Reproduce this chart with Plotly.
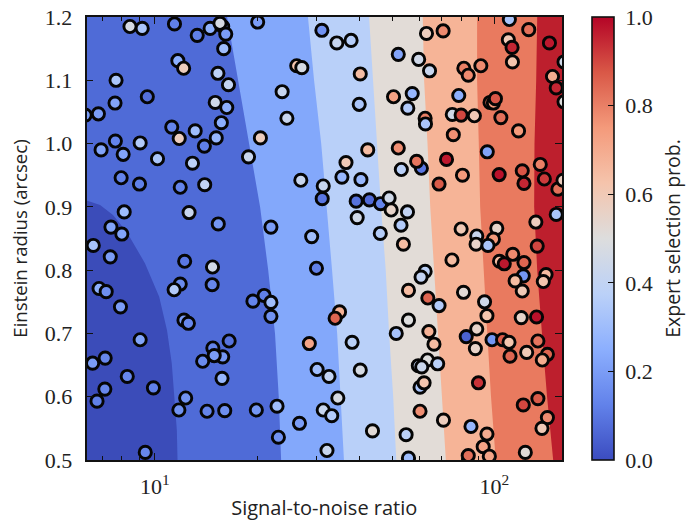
import numpy as np
import plotly.graph_objects as go

log10_snr = [
 .927,.963,1.058,1.125,1.163,1.200,1.192,1.209,1.203,1.303,
 1.492,1.068,1.085,1.186,1.217,.886,.978,.883,.834,.795,
 1.178,1.212,1.196,1.050,1.119,1.072,1.181,1.146,.884,.957,
 .842,.907,1.008,1.111,.901,.955,1.075,1.147,.910,1.101,
 1.187,.871,.903,1.311,1.276,1.375,1.389,1.418,1.433,1.430,
 1.496,1.493,1.342,1.462,1.536,1.578,1.605,1.602,1.627,1.563,
 1.551,1.607,1.593,1.632,1.665,1.690,1.696,1.744,1.596,1.725,
 1.664,1.717,1.777,1.809,1.800,1.849,1.703,1.758,1.745,1.796,
 1.797,1.717,1.726,1.785,1.771,1.859,1.837,1.906,1.879,1.895,
 1.876,1.902,1.941,1.910,1.923,1.960,1.987,1.997,2.003,2.019,
 2.071,1.979,2.014,2.082,2.087,2.135,2.147,2.187,2.202,2.044,
 2.101,2.162,2.041,2.052,2.053,2.171,2.182,2.205,2.205,2.182,
 2.122,1.902,2.007,1.948,1.997,1.732,1.946,1.981,1.875,2.015,
 2.029,2.054,2.087,2.126,1.796,1.784,2.085,2.061,2.152,2.144,
 2.082,1.747,1.909,1.804,1.837,1.971,1.978,2.079,2.124,1.747,
 1.711,1.807,1.822,1.948,1.917,1.944,1.993,2.024,2.043,2.046,
 2.095,2.128,2.156,2.141,1.544,1.531,1.581,1.605,1.513,1.539,
 1.496,1.521,1.507,1.641,1.740,1.747,1.781,1.850,1.781,1.793,
 1.803,1.833,1.776,1.786,1.953,1.931,1.978,1.967,1.923,1.985,
 2.091,2.085,2.128,2.156,2.140,.819,.869,1.088,1.170,1.169,
 1.075,1.057,.836,.857,.899,1.086,1.099,.957,1.219,1.171,
 1.200,1.175,1.141,.817,.854,.919,1.198,.996,.853,.830,
 1.091,1.071,1.154,1.206,1.299,1.360,1.426,1.364,.972,1.289,
 1.322,1.342,1.342,1.455,1.478,1.476,
]
einstein_radius = [
 1.185,1.182,1.189,1.171,1.182,1.185,1.190,1.173,1.150,1.192,
 1.179,1.131,1.119,1.111,1.093,1.100,1.074,1.064,1.047,1.045,
 1.065,1.057,1.033,1.026,1.020,1.008,1.009,.996,1.004,1.001,
 .990,.983,.976,.969,.946,.936,.931,.935,.892,.891,
 .873,.868,.857,1.009,.979,1.082,1.040,1.123,1.120,.942,
 .933,.913,.868,.853,1.159,1.163,1.110,1.062,.990,.970,
 .947,.943,.909,.911,.905,.914,.895,.892,.883,.871,
 .858,1.141,1.133,1.115,1.174,1.178,1.074,1.079,1.056,1.040,
 1.031,.993,.959,.961,.972,.975,.936,.950,1.014,1.076,
 1.046,1.045,1.044,1.119,1.108,1.123,1.065,1.064,1.071,1.041,
 1.020,.987,.951,.957,.937,.967,.944,.928,.942,1.196,
 1.180,1.159,1.164,1.152,1.129,1.106,1.088,1.129,1.066,.888,
 .876,.865,.866,.854,.849,.841,.841,.839,.816,.814,
 .810,.825,.812,.838,.798,.789,.791,.783,.793,.782,
 .767,.768,.765,.756,.744,.750,.728,.725,.726,.721,
 .700,.703,.683,.707,.695,.676,.690,.690,.686,.664,
 .670,.688,.667,.658,.734,.724,.686,.642,.632,.598,
 .579,.570,.515,.546,.540,.503,.577,.563,.615,.622,
 .658,.652,.649,.647,.622,.553,.541,.521,.507,.506,
 .512,.587,.597,.567,.550,.839,.821,.814,.805,.777,
 .778,.769,.771,.766,.742,.721,.716,.690,.688,.677,
 .663,.665,.656,.653,.661,.632,.629,.614,.612,.593,
 .598,.579,.577,.578,.579,.585,.558,.536,.512,.751,
 .760,.749,.727,.684,.643,.803,
]
selection_prob = [
 .47,.33,.12,.12,.26,.20,.47,.20,.30,.20,
 .17,.25,.58,.38,.40,.33,.08,.22,.20,.20,
 .45,.25,.25,.13,.30,.58,.28,.12,.13,.35,
 .22,.22,.33,.38,.13,.12,.13,.40,.30,.42,
 .18,.22,.22,.58,.42,.42,.42,.62,.47,.42,
 .42,.10,.20,.30,.42,.36,.65,.33,.65,.60,
 .28,.28,.09,.07,.13,.45,.55,.40,.45,.35,
 .36,.22,.45,.42,.58,.78,.73,.28,.35,.80,
 .33,.77,.37,.10,.82,.97,.87,.75,.77,.25,
 .45,.90,.60,.80,.78,.78,.82,.75,.88,.83,
 .75,.22,.98,.88,.95,.80,.92,.83,.58,.33,
 .83,.97,.60,.95,.62,.70,.95,.45,.50,.33,
 .58,.60,.55,.42,.75,.65,.55,.33,.65,.65,
 .97,.78,.85,.90,.38,.40,.18,.65,.65,.62,
 .60,.65,.52,.85,.35,.45,.62,.55,.98,.50,
 .32,.68,.65,.55,.05,.55,.18,.87,.62,.85,
 .60,.82,.85,.70,.68,.85,.37,.47,.40,.47,
 .42,.35,.42,.52,.38,.30,.77,.58,.33,.62,
 .50,.37,.40,.43,.93,.28,.70,.72,.83,.72,
 .52,.90,.87,.78,.60,.32,.20,.10,.45,.14,
 .15,.35,.25,.16,.20,.20,.14,.22,.09,.13,
 .18,.20,.15,.20,.14,.14,.28,.12,.14,.12,
 .17,.17,.13,.16,.18,.30,.20,.17,.14,.13,
 .12,.30,.17,.72,.30,.12,
]

contour_radius = [.5, .6, .7, .8, .9, 1.0, 1.1, 1.2]
level_1_log10_snr = [.799, .839, .877, .918, .971, 1.013, 1.036, 1.050, 1.065, 1.067]
level_1_radius = [.910, .903, .887, .860, .811, .758, .705, .653, .547, .5]
level_2_log10_snr = [1.372, 1.365, 1.354, 1.334, 1.310, 1.278, 1.245, 1.213]
level_3_log10_snr = [1.557, 1.546, 1.537, 1.522, 1.507, 1.490, 1.469, 1.451]
level_4_log10_snr = [1.711, 1.702, 1.690, 1.680, 1.666, 1.655, 1.643, 1.631]
level_5_log10_snr = [1.857, 1.845, 1.834, 1.822, 1.811, 1.803, 1.793, 1.789]
level_6_log10_snr = [2.004, 1.990, 1.979, 1.968, 1.958, 1.954, 1.949, 1.949]
level_7_log10_snr = [2.173, 2.155, 2.140, 2.126, 2.117, 2.118, 2.123, 2.126]

band_colors = ["#3b4cb9", "#4f6bd7", "#83a8fb", "#b9d0f9", "#e2dcd7", "#f6b497", "#e97a5f", "#bd1f2d"]
coolwarm = [[0, "#3b4cc0"], [.125, "#6282ea"], [.25, "#8caffe"], [.375, "#bbd1f8"], [.5, "#dddddd"],
            [.625, "#f5c4ac"], [.75, "#f49a7b"], [.875, "#d95847"], [1, "#b40426"]]

XMIN, XMAX = .799, 2.199
L, R, T, B = 86.5, 562, 17, 460
W, H = 691, 521
SERIF = "Liberation Serif"
SANS = "Open Sans"
INK = "#111111"
TICK = "#111111"

fig = go.Figure()


def layer(xs, ys, color):
    xs = list(xs) + [XMAX + .01, XMAX + .01]
    ys = list(ys)
    if ys[0] > ys[-1]:
        xs = [XMIN - .01] + xs + [XMIN - .01]
        ys = [ys[0]] + ys + [.49, 1.21, 1.21]
    else:
        ys = ys + [1.21, .49]
    fig.add_trace(go.Scatter(x=10 ** np.array(xs), y=ys, mode="lines", fill="toself",
                             fillcolor=color, line=dict(width=0), hoverinfo="skip", showlegend=False))


layer(level_1_log10_snr, level_1_radius, band_colors[1])
for i, b in enumerate([level_2_log10_snr, level_3_log10_snr, level_4_log10_snr,
                       level_5_log10_snr, level_6_log10_snr, level_7_log10_snr]):
    layer(b, contour_radius, band_colors[i + 2])

fig.add_trace(go.Scatter(
    x=10 ** np.array(log10_snr), y=einstein_radius, mode="markers", showlegend=False,
    marker=dict(size=12.2, color=selection_prob, colorscale=coolwarm, cmin=0, cmax=1,
                line=dict(color="#050505", width=2.9),
                colorbar=dict(
                    x=592 / W, xanchor="left", thickness=22, thicknessmode="pixels",
                    y=(H - B) / H, yanchor="bottom", len=(B - T) / H, lenmode="fraction",
                    outlinecolor=INK, outlinewidth=1.6, ticks="inside", ticklen=6, tickwidth=1.2,
                    tickcolor=TICK, tickvals=[0, .2, .4, .6, .8, 1],
                    ticktext=["\u20050.0\u2009", "\u20050.2\u2009", "\u20050.4\u2009",
                              "\u20050.6\u2009", "\u20050.8\u2009", "\u20051.0\u2009"],
                    tickfont=dict(family=SERIF, size=22, color="#222"), ypad=0, xpad=0,
                    title=dict(text="Expert selection prob.", side="right",
                               font=dict(family=SANS, size=19.5, color="#222")),
                ))))

minor_vals = [7, 8, 9, 20, 30, 40, 50, 60, 70, 80, 90]
fig.update_layout(
    width=W, height=H, autosize=False,
    margin=dict(l=0, r=0, t=0, b=0, autoexpand=False), paper_bgcolor="white", plot_bgcolor=band_colors[0],
    xaxis=dict(type="log", range=[XMIN, XMAX], domain=[L / W, R / W], showgrid=False, zeroline=False,
               tickmode="array", tickvals=[10, 100], ticktext=["10<sup>1</sup>", "10<sup>2</sup>"],
               ticks="inside", ticklen=7, tickwidth=1.3, tickcolor=TICK, mirror="allticks",
               showline=True, linecolor=INK, linewidth=1.6, ticklabelstandoff=6, layer="above traces",
               minor=dict(ticks="inside", ticklen=4, tickwidth=1.1, tickcolor=TICK, tickmode="array", tickvals=minor_vals,
                          showgrid=False),
               tickfont=dict(family=SERIF, size=22, color="#222"),
               title=dict(text="Signal-to-noise ratio", font=dict(family=SANS, size=20, color="#222"), standoff=13)),
    yaxis=dict(range=[.5, 1.2], domain=[(H - B) / H, (H - T) / H], showgrid=False, zeroline=False,
               tickmode="array", tickvals=[.5, .6, .7, .8, .9, 1.0, 1.1, 1.2],
               ticktext=["0.5", "0.6", "0.7", "0.8", "0.9", "1.0", "1.1", "1.2"],
               ticks="inside", ticklen=7, tickwidth=1.3, tickcolor=TICK, mirror="allticks",
               showline=True, linecolor=INK, linewidth=1.6, ticklabelstandoff=8, layer="above traces",
               tickfont=dict(family=SERIF, size=22, color="#222"),
               title=dict(text="Einstein radius (arcsec)", font=dict(family=SANS, size=18.6, color="#222"), standoff=12)),
)
fig.write_html("out.html", post_script="document.body.style.margin='0';",
               config=dict(displayModeBar=False))
